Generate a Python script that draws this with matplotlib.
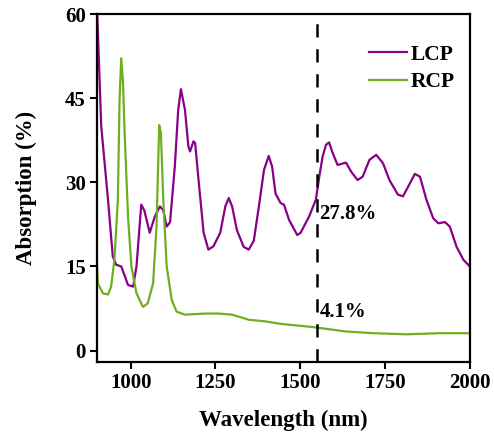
import matplotlib.pyplot as plt

# LCP absorption (purple)
lcp_wl = [900, 903, 913, 933, 947, 957, 972, 992, 1007, 1017, 1031, 1040, 1056, 1071,
          1086, 1096, 1106, 1116, 1130, 1140, 1148, 1160, 1170, 1175, 1185, 1190, 1200,
          1215, 1229, 1244, 1264, 1279, 1289, 1299, 1313, 1333, 1348, 1363, 1378, 1393,
          1407, 1417, 1427, 1442, 1452, 1467, 1491, 1501, 1526, 1546, 1556, 1566, 1576,
          1585, 1595, 1610, 1635, 1650, 1669, 1684, 1704, 1724, 1744, 1763, 1788, 1803,
          1818, 1838, 1853, 1872, 1892, 1907, 1927, 1941, 1961, 1981, 2000]
lcp_abs = [62, 57, 40, 26.9, 16.8, 15.3, 15.0, 11.7, 11.4, 15, 26, 25, 21, 23.9,
           25.7, 25, 22.1, 22.9, 32.8, 42.9, 46.6, 42.9, 36.4, 35.5, 37.3, 37, 30.4,
           21, 18, 18.6, 21, 25.7, 27.2, 25.7, 21.5, 18.5, 18, 19.6, 25.7, 32.2,
           34.7, 32.8, 28, 26.3, 26.0, 23.3, 20.6, 21, 23.9, 26.9, 31, 34.6, 36.7,
           37.1, 35.3, 33.1, 33.5, 31.9, 30.4, 31, 34, 34.9, 33.4, 30.4, 27.8, 27.5,
           29.2, 31.5, 31, 26.9, 23.6, 22.7, 22.9, 22.1, 18.5, 16.2, 15]

# RCP absorption (green)
rcp_wl = [900, 903, 918, 933, 942, 952, 962, 967, 972, 977, 982, 992, 1002, 1017,
          1036, 1050, 1066, 1076, 1084, 1089, 1096, 1106, 1121, 1135, 1160, 1220,
          1259, 1299, 1348, 1398, 1437, 1467, 1536, 1635, 1714, 1813, 1912, 2000]
rcp_abs = [16.2, 12, 10.2, 10.0, 11.4, 16.2, 26.9, 44.7, 52.1, 48, 38.8, 23.9, 15, 10.2,
           7.8, 8.4, 12, 22.1, 40.2, 38.8, 26.9, 15, 9, 6.95, 6.4, 6.6,
           6.6, 6.4, 5.5, 5.2, 4.8, 4.6, 4.2, 3.4, 3.1, 2.9, 3.1, 3.1]

x_ticks = [1000, 1250, 1500, 1750, 2000]
y_ticks = [0, 15, 30, 45, 60]
marker_wl = 1550

plt.rcParams["font.family"] = ["Liberation Serif", "DejaVu Serif"]
plt.rcParams["font.weight"] = "bold"

fig = plt.figure(figsize=(4.94, 4.38), dpi=100)
ax = fig.add_axes([0.196, 0.174, 0.755, 0.794])

ax.plot(lcp_wl, lcp_abs, color="#880088", lw=1.6, label="LCP")
ax.plot(rcp_wl, rcp_abs, color="#6fae1e", lw=1.6, label="RCP")
ax.axvline(marker_wl, color="black", lw=1.8, ls=(0, (5.3, 4.7)))

ax.text(marker_wl + 7, 24.3, "27.8%", fontsize=15, fontweight="bold", va="center")
ax.text(marker_wl + 7, 6.9, "4.1%", fontsize=15, fontweight="bold", va="center")

ax.set_xlim(900, 2000)
ax.set_ylim(-2, 60)
ax.set_xticks(x_ticks)
ax.set_yticks(y_ticks)
ax.tick_params(direction="out", length=5, width=1.5, labelsize=15, pad=3)
for lbl in ax.get_xticklabels() + ax.get_yticklabels():
    lbl.set_fontweight("bold")
for sp in ax.spines.values():
    sp.set_linewidth(1.6)

ax.set_xlabel("Wavelength (nm)", fontsize=16.5, fontweight="bold", labelpad=12)
ax.set_ylabel("Absorption (%)", fontsize=16.5, fontweight="bold", labelpad=20)

leg = ax.legend(loc="upper right", frameon=False, fontsize=15.5, handlelength=1.8,
                handletextpad=0.15, borderaxespad=0.3, labelspacing=0.35,
                bbox_to_anchor=(1.0, 0.955))
for t in leg.get_texts():
    t.set_fontweight("bold")

fig.savefig("out.png", dpi=100)
